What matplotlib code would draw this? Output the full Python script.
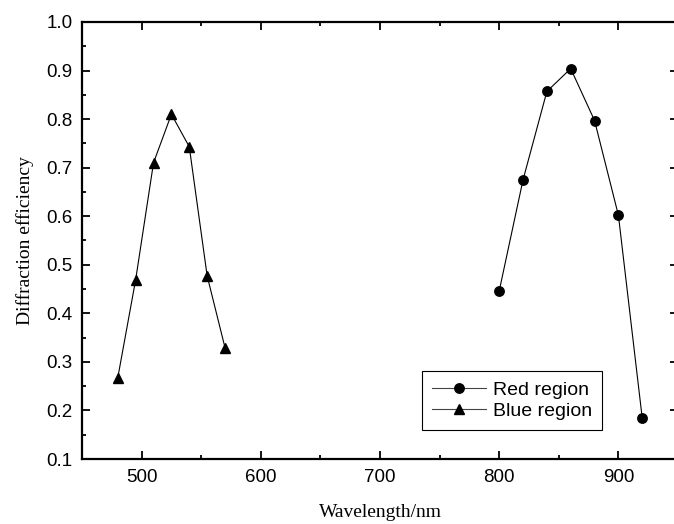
import matplotlib
matplotlib.use("Agg")
import matplotlib.pyplot as plt
from matplotlib.ticker import MultipleLocator, FormatStrFormatter

red_x = [800, 820, 840, 860, 880, 900, 920]
red_y = [0.446, 0.675, 0.857, 0.904, 0.797, 0.602, 0.184]
blue_x = [480, 495, 510, 525, 540, 555, 570]
blue_y = [0.267, 0.469, 0.710, 0.810, 0.743, 0.477, 0.329]

fig = plt.figure(figsize=(6.74, 5.24), dpi=100)
ax = fig.add_axes([82/674, 65/524, 596/674, 437/524])

ax.plot(red_x, red_y, color='black', lw=0.8, marker='o', ms=6.8, label='Red region')
ax.plot(blue_x, blue_y, color='black', lw=0.8, marker='^', ms=7.5, label='Blue region')

ax.set_xlim(450, 950)
ax.set_ylim(0.1, 1.0)
ax.xaxis.set_major_locator(MultipleLocator(100))
ax.xaxis.set_minor_locator(MultipleLocator(50))
ax.yaxis.set_major_locator(MultipleLocator(0.1))
ax.yaxis.set_minor_locator(MultipleLocator(0.05))
ax.yaxis.set_major_formatter(FormatStrFormatter('%.1f'))

for s in ax.spines.values():
    s.set_linewidth(1.6)
# the right-hand frame line lies just past the image edge in the reference
ax.spines['right'].set_visible(False)
ax.tick_params(which='both', direction='in', top=True, right=True, width=1.3)
ax.tick_params(which='major', length=5.5, pad=7, labelsize=13.5)
ax.tick_params(which='minor', length=3)
for lab in ax.get_xticklabels() + ax.get_yticklabels():
    lab.set_fontfamily('Liberation Sans')

ax.set_xlabel('Wavelength/nm', fontfamily='Liberation Serif', fontsize=14, labelpad=13)
ax.set_ylabel('Diffraction efficiency', fontfamily='Liberation Serif', fontsize=14, labelpad=9)

leg = ax.legend(loc='lower right', prop={'family': 'Liberation Sans', 'size': 14},
                fancybox=False, framealpha=1, edgecolor='black', handlelength=2.8,
                handletextpad=0.35, borderpad=0.5, labelspacing=0.2, borderaxespad=0)
leg.get_frame().set_linewidth(0.8)
for h in leg.legend_handles:
    h.set_color('#444444')
    h.set_markerfacecolor('black')
    h.set_markeredgecolor('black')
fig.canvas.draw()
ax_bb = ax.get_window_extent()
x1 = (602 - ax_bb.x0) / ax_bb.width
y0 = ((524 - 430) - ax_bb.y0) / ax_bb.height
leg.set_bbox_to_anchor((x1, y0), transform=ax.transAxes)

fig.savefig('out.png', dpi=100)
